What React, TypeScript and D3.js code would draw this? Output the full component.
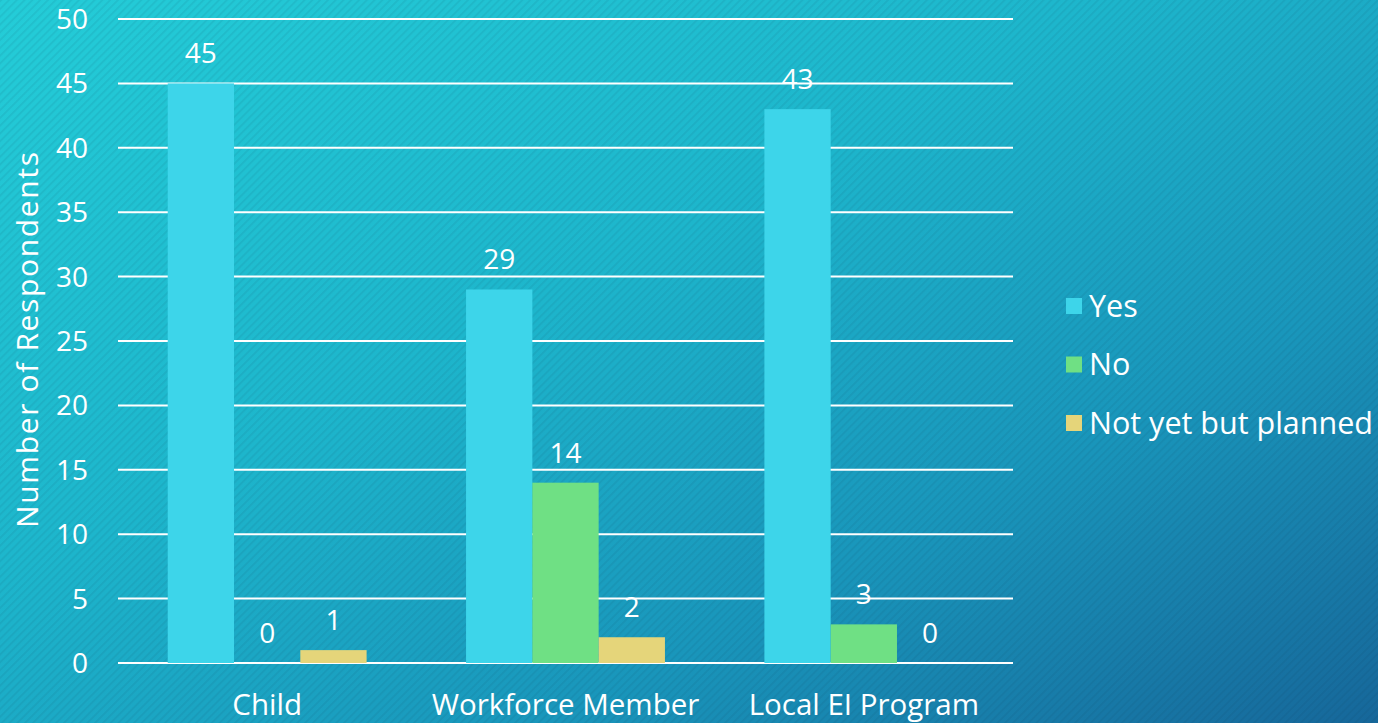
import React from "react";
import * as d3 from "d3";

const categories = ["Child", "Workforce Member", "Local EI Program"];
const seriesNames = ["Yes", "No", "Not yet but planned"];
const yesValues = [45, 29, 43];
const noValues = [0, 14, 3];
const plannedValues = [1, 2, 0];
const yTicks = [0, 5, 10, 15, 20, 25, 30, 35, 40, 45, 50];
const seriesColors = ["#3dd5ea", "#6fe084", "#e5d57a"];

const W = 1378;
const H = 723;
const FONT = "'Open Sans', 'Noto Sans', sans-serif";

export default function App() {
  const left = 118, right = 1013, top = 19, bottom = 663;
  const seriesValues = [yesValues, noValues, plannedValues];
  const x0 = d3.scaleBand<string>().domain(categories).range([left, right]).paddingInner(1 / 3).paddingOuter(1 / 6);
  const x1 = d3.scaleBand<string>().domain(seriesNames).range([0, x0.bandwidth()]).padding(0);
  const y = d3.scaleLinear().domain([0, 50]).range([bottom, top]);

  return (
    <svg width={W} height={H} style={{ position: "absolute", left: 0, top: 0, display: "block" }} fontFamily={FONT}>
      <defs>
        <linearGradient id="bg" x1="0" y1="0" x2="1" y2="1">
          <stop offset="0" stopColor="#24cdd8" />
          <stop offset="0.4" stopColor="#1db6cc" />
          <stop offset="0.7" stopColor="#1996bb" />
          <stop offset="1" stopColor="#16679a" />
        </linearGradient>
        <pattern id="stripes" width="5.5" height="5.5" patternUnits="userSpaceOnUse" patternTransform="rotate(45)">
          <rect x="0" y="0" width="2" height="5.5" fill="#0a3550" opacity="0.08" />
        </pattern>
      </defs>
      <rect width={W} height={H} fill="url(#bg)" />
      <rect width={W} height={H} fill="url(#stripes)" />

      {yTicks.map((t) => (
        <g key={t}>
          <line x1={left} x2={right} y1={y(t)} y2={y(t)} stroke="#ffffff" strokeWidth={2} />
          <text x={88} y={y(t)} dy="0.36em" textAnchor="end" fill="#fff" fontSize={28}>
            {t}
          </text>
        </g>
      ))}

      {categories.map((c, ci) => (
        <g key={c} transform={`translate(${x0(c)},0)`}>
          {seriesNames.map((s, si) => {
            const v = seriesValues[si][ci];
            const bx = x1(s)!;
            return (
              <g key={s}>
                {v > 0 && (
                  <rect x={bx} y={y(v)} width={x1.bandwidth()} height={y(0) - y(v)} fill={seriesColors[si]} />
                )}
                <text x={bx + x1.bandwidth() / 2} y={y(v) - 20} textAnchor="middle" fill="#fff" fontSize={28}>
                  {v}
                </text>
              </g>
            );
          })}
          <text x={x0.bandwidth() / 2} y={715} textAnchor="middle" fill="#fff" fontSize={29.5}>
            {c}
          </text>
        </g>
      ))}

      <text
        transform={`translate(38,340) rotate(-90)`}
        textAnchor="middle"
        fill="#fff"
        fontSize={30}
        textLength={376}
        lengthAdjust="spacing"
      >
        Number of Respondents
      </text>

      {seriesNames.map((s, i) => (
        <g key={s} transform={`translate(1066,${306 + i * 58.5})`}>
          <rect x={0} y={-8} width={16} height={16} fill={seriesColors[i]} />
          <text x={23} y={0} dy="0.36em" fill="#fff" fontSize={30.5}>
            {s}
          </text>
        </g>
      ))}
    </svg>
  );
}
